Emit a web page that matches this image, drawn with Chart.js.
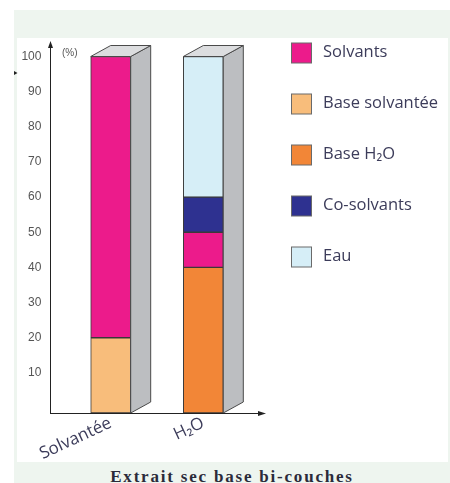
<!DOCTYPE html>
<html>
<head>
<meta charset="utf-8">
<script src="https://cdn.jsdelivr.net/npm/chart.js@4/dist/chart.umd.min.js"></script>
<style>
  html, body { margin: 0; padding: 0; background: #ffffff; width: 450px; height: 483px; overflow: hidden; }
  #panel { position: absolute; left: 14px; top: 10px; width: 436px; height: 473px; background: #eef5ef; }
  #plotbg { position: absolute; left: 17px; top: 38px; width: 431px; height: 424px; background: #ffffff; }
  #caption { position: absolute; left: 14px; width: 436px; top: 468px; text-align: center;
             font-family: "Liberation Serif", serif; font-weight: bold; font-size: 17px; line-height: 17px; letter-spacing: 1.8px; color: #2b2b3a; white-space: nowrap; }
  #c { position: absolute; left: 0; top: 0; }
</style>
</head>
<body>
<div id="panel"></div>
<div id="plotbg"></div>
<div id="caption">Extrait sec base bi-couches</div>
<canvas id="c" width="450" height="483"></canvas>
<script>
// ---- data ----
const categories = ['Solvantée', 'H₂O'];
const baseSolvantee = [20, null];
const baseH2O = [null, 40];
const solvants = [80, 10];
const coSolvants = [null, 10];
const eau = [null, 40];
const yTickValues = [10, 20, 30, 40, 50, 60, 70, 80, 90, 100];
const legendOrder = ['Solvants', 'Base solvantée', 'Base H₂O', 'Co-solvants', 'Eau'];

const Y_MIN = -1.4;
const Y_MAX = 100;
const edge = '#3a3a3a';

const datasets = [
  { label: 'Base solvantée', data: baseSolvantee, backgroundColor: '#f8bd7b', base: Y_MIN },
  { label: 'Base H₂O', data: baseH2O, backgroundColor: '#f28637', base: Y_MIN },
  { label: 'Solvants', data: solvants, backgroundColor: '#ec1b8b' },
  { label: 'Co-solvants', data: coSolvants, backgroundColor: '#2e3190' },
  { label: 'Eau', data: eau, backgroundColor: '#d6eef7' }
].map(d => Object.assign({ borderColor: edge, borderWidth: 1, borderSkipped: false, barThickness: 40 }, d));

const depthX = 20, depthY = 11;

const decorPlugin = {
  id: 'decor',
  afterDatasetsDraw(chart) {
    const ctx = chart.ctx;
    const area = chart.chartArea;
    const bottom = area.bottom;
    categories.forEach((cat, i) => {
      let top = Infinity, left = null, right = null;
      chart.data.datasets.forEach((ds, di) => {
        if (ds.data[i] === null || ds.data[i] === undefined) return;
        const el = chart.getDatasetMeta(di).data[i];
        if (!el || !isFinite(el.y)) return;
        top = Math.min(top, el.y);
        left = el.x - el.width / 2;
        right = el.x + el.width / 2;
      });
      if (left === null) return;
      ctx.save();
      ctx.lineWidth = 1;
      ctx.strokeStyle = '#4a4a4a';
      // side face
      ctx.beginPath();
      ctx.moveTo(right, top);
      ctx.lineTo(right + depthX, top - depthY);
      ctx.lineTo(right + depthX, bottom - depthY);
      ctx.lineTo(right, bottom);
      ctx.closePath();
      ctx.fillStyle = '#bcbec1';
      ctx.fill();
      ctx.stroke();
      // top face
      ctx.beginPath();
      ctx.moveTo(left, top);
      ctx.lineTo(left + depthX, top - depthY);
      ctx.lineTo(right + depthX, top - depthY);
      ctx.lineTo(right, top);
      ctx.closePath();
      ctx.fillStyle = '#dcdddf';
      ctx.fill();
      ctx.stroke();
      ctx.restore();
    });

    // axes with arrows
    const ax = 50;
    ctx.save();
    ctx.strokeStyle = '#222';
    ctx.fillStyle = '#222';
    ctx.lineWidth = 1;
    ctx.beginPath();
    ctx.moveTo(ax + 0.5, bottom);
    ctx.lineTo(ax + 0.5, 46);
    ctx.moveTo(ax, bottom + 0.5);
    ctx.lineTo(260, bottom + 0.5);
    ctx.stroke();
    ctx.beginPath();
    ctx.moveTo(ax + 0.5, 41);
    ctx.lineTo(ax - 2, 48);
    ctx.lineTo(ax + 3, 48);
    ctx.closePath();
    ctx.fill();
    ctx.beginPath();
    ctx.moveTo(266, bottom + 0.5);
    ctx.lineTo(258, bottom - 2);
    ctx.lineTo(258, bottom + 3);
    ctx.closePath();
    ctx.fill();
    // small stray marker at left
    ctx.beginPath();
    ctx.moveTo(14, 71);
    ctx.lineTo(17.5, 73);
    ctx.lineTo(14, 75);
    ctx.closePath();
    ctx.fill();
    // unit label
    ctx.fillStyle = '#555';
    ctx.font = '10px "Liberation Sans", sans-serif';
    ctx.textAlign = 'left';
    ctx.textBaseline = 'middle';
    ctx.fillText('(%)', 62, 53);
    ctx.restore();

    // legend
    ctx.save();
    legendOrder.forEach((name, k) => {
      const ds = chart.data.datasets.find(d => d.label === name);
      const cy = 53 + k * 51;
      ctx.fillStyle = ds.backgroundColor;
      ctx.fillRect(291.5, cy - 10, 20, 20);
      ctx.strokeStyle = '#6a6a6a';
      ctx.lineWidth = 1;
      ctx.strokeRect(291.5, cy - 10, 20, 20);
      ctx.fillStyle = '#3c3c5a';
      ctx.font = '16.5px "Open Sans", sans-serif';
      ctx.textAlign = 'left';
      ctx.textBaseline = 'middle';
      ctx.fillText(name, 323, cy - 1);
    });
    ctx.restore();
  }
};

new Chart(document.getElementById('c'), {
  type: 'bar',
  data: { labels: categories, datasets },
  options: {
    responsive: false,
    animation: false,
    layout: { padding: { left: 0, right: 200.4, top: 56.5, bottom: 0 } },
    plugins: { legend: { display: false }, tooltip: { enabled: false } },
    scales: {
      x: {
        stacked: true,
        offset: true,
        grid: { display: false },
        border: { display: false },
        ticks: {
          minRotation: 25, maxRotation: 25, padding: -8,
          color: '#3c3c5a',
          font: { family: '"Open Sans", sans-serif', size: 17 }
        },
        afterFit(s) { s.height = 70; }
      },
      y: {
        stacked: true,
        min: Y_MIN, max: Y_MAX,
        grid: { display: false },
        border: { display: false },
        afterBuildTicks(s) { s.ticks = yTickValues.map(v => ({ value: v })); },
        ticks: {
          padding: 15,
          color: '#555',
          font: { family: '"Liberation Sans", sans-serif', size: 12 },
          callback: v => String(v)
        },
        afterFit(s) { s.width = 64.4; }
      }
    }
  },
  plugins: [decorPlugin]
});
</script>
</body>
</html>
